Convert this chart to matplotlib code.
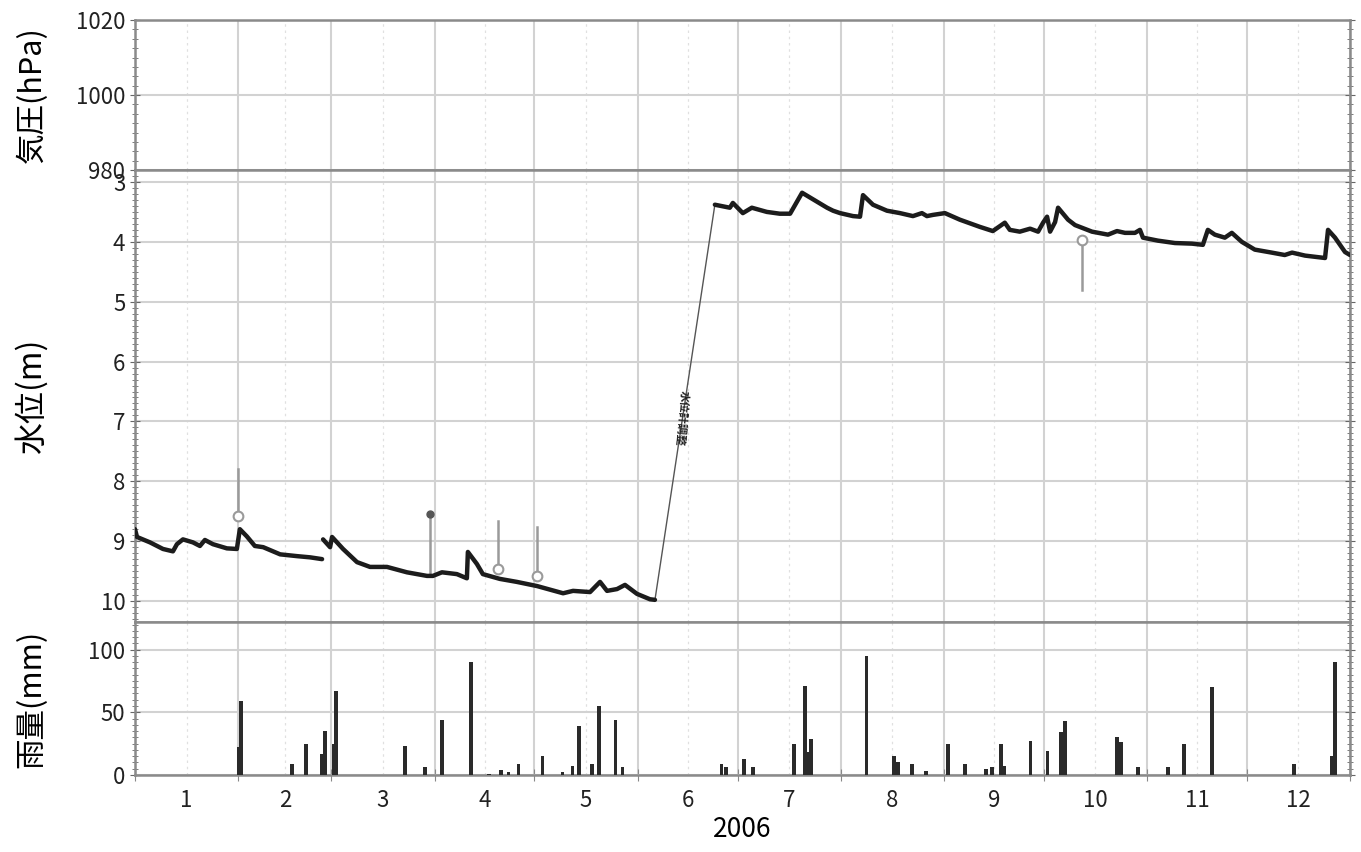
import matplotlib
matplotlib.use('Agg')
from matplotlib import pyplot as plt
from matplotlib.ticker import MultipleLocator, FixedLocator, NullFormatter
import numpy as np

plt.rcParams['font.family'] = ['Noto Sans CJK JP', 'DejaVu Sans']

# water level (m below ground), day of year 2006
day_seg1 = [0, 0.6, 4.5, 8.4, 11.4, 12.6, 14.4, 17.4, 19.5, 21.0, 23.4, 27.6, 30.6,
            31.5, 33.6, 36.0, 38.5, 43.6, 48.7, 52.6, 56.2]
lvl_seg1 = [8.80, 8.93, 9.02, 9.13, 9.17, 9.05, 8.97, 9.02, 9.08, 8.98, 9.05, 9.12, 9.13,
            8.80, 8.92, 9.08, 9.10, 9.22, 9.25, 9.27, 9.30]

day_seg2 = [56.5, 58.6, 59.2, 62.5, 66.7, 70.6, 75.7, 81.7, 87.7, 89.5, 92.2, 96.7, 99.7,
            100.0, 102.7, 104.5, 109.6, 114.7, 120.8, 128.6, 131.6, 136.7, 139.7, 141.8,
            144.8, 147.2, 150.8, 154.7, 156.2]
lvl_seg2 = [8.97, 9.10, 8.93, 9.13, 9.35, 9.43, 9.43, 9.52, 9.58, 9.58, 9.52, 9.55, 9.62,
            9.18, 9.38, 9.55, 9.63, 9.68, 9.75, 9.87, 9.83, 9.85, 9.68, 9.83,
            9.80, 9.73, 9.88, 9.97, 9.98]

day_seg3 = [174.2, 178.7, 179.6, 182.6, 185.3, 189.8, 193.7, 196.8, 200.4, 204.9, 207.9,
            209.7, 211.8, 215.7, 217.8, 218.7, 221.7, 225.9, 229.8, 233.7, 236.4, 237.9,
            239.7, 243.3, 247.8, 253.8, 257.7, 261.3, 262.8, 265.8, 268.9, 271.3, 272.8,
            274.0, 274.9, 276.4, 277.3, 280.3, 282.4, 287.5, 292.3, 295.0, 297.4, 300.4,
            301.9, 302.8, 307.3, 312.4, 317.5, 320.8, 322.3, 324.4, 327.4, 329.5, 332.5,
            336.4, 341.5, 345.4, 347.6, 351.5, 357.5, 358.4, 360.5, 363.5, 365.0]
lvl_seg3 = [3.38, 3.43, 3.35, 3.52, 3.43, 3.50, 3.53, 3.53, 3.18, 3.33, 3.43,
            3.48, 3.52, 3.57, 3.58, 3.22, 3.38, 3.48, 3.52, 3.57, 3.52, 3.57,
            3.55, 3.52, 3.63, 3.75, 3.82, 3.68, 3.80, 3.83, 3.78, 3.83, 3.68,
            3.58, 3.83, 3.67, 3.43, 3.63, 3.72, 3.83, 3.88, 3.82, 3.85, 3.85,
            3.80, 3.93, 3.98, 4.02, 4.03, 4.05, 3.80, 3.88, 3.93, 3.85, 4.00,
            4.13, 4.18, 4.22, 4.18, 4.23, 4.27, 3.80, 3.93, 4.17, 4.22]

# manual check marks: day, top, bottom
check_day = [31.0, 88.6, 109.0, 120.8, 284.5]
check_top = [7.80, 8.55, 8.67, 8.77, 3.97]
check_bot = [8.58, 9.58, 9.47, 9.58, 4.80]

# daily rainfall (mm)
rain_day = [31.3, 31.8, 47.1, 51.3, 56.1, 57.0, 59.7, 60.3, 81.2, 87.2, 92.3, 101.0,
            106.3, 109.9, 112.2, 115.2, 122.4, 128.4, 131.4, 133.4, 137.3, 139.4, 144.3,
            146.5, 176.2, 177.6, 183.0, 185.7, 198.0, 201.2, 201.8, 203.0, 219.8, 228.1,
            229.3, 233.5, 237.7, 244.3, 249.3, 255.6, 257.4, 260.1, 261.0, 269.0, 274.1,
            278.1, 279.3, 295.0, 296.2, 301.4, 310.3, 315.1, 323.5, 348.2, 359.5, 360.4]
rain_mm = [22, 59, 9, 25, 17, 35, 25, 67, 23, 6, 44, 90,
           1, 4, 2, 9, 15, 2, 7, 39, 9, 55, 44,
           6, 9, 6, 13, 6, 25, 71, 18, 29, 95, 15,
           10, 9, 3, 25, 9, 5, 6, 25, 7, 27, 19,
           34, 43, 30, 26, 6, 6, 25, 70, 9, 15, 90]

month_start = [0, 31, 59, 90, 120, 151, 181, 212, 243, 273, 304, 334, 365]
month_names = ['1', '2', '3', '4', '5', '6', '7', '8', '9', '10', '11', '12']

fig = plt.figure(figsize=(13.61, 8.52), dpi=100)
L, W = 135 / 1361, 1215 / 1361
ax_p = fig.add_axes([L, 1 - 170 / 852, W, 150 / 852])
ax_w = fig.add_axes([L, 1 - 622 / 852, W, 452 / 852])
ax_r = fig.add_axes([L, 1 - 775 / 852, W, 153 / 852])

mid = [(month_start[i] + month_start[i + 1]) / 2 for i in range(12)]

for ax in (ax_p, ax_w, ax_r):
    ax.set_xlim(0, 365)
    ax.xaxis.set_major_locator(FixedLocator(month_start))
    ax.xaxis.set_minor_locator(FixedLocator(mid))
    ax.grid(True, which='major', axis='both', color='#d2d2d2', lw=1.5)
    ax.grid(True, which='minor', axis='x', color='#e0e0e0', lw=0.9, ls=(0, (2, 3)))
    for s in ax.spines.values():
        s.set_color('#8a8a8a')
        s.set_linewidth(1.8)
    ax.tick_params(axis='y', which='both', direction='inout', right=True, colors='#666',
                   labelcolor='#222', labelsize=16)
    ax.tick_params(axis='y', which='major', length=7)
    ax.tick_params(axis='y', which='minor', length=4)
    ax.tick_params(axis='x', which='both', length=0, labelbottom=False)
    ax.set_axisbelow(True)

# pressure panel (empty)
ax_p.set_ylim(980, 1020)
ax_p.set_yticks([980, 1000, 1020])
ax_p.yaxis.set_minor_locator(MultipleLocator(2.5))
ax_p.set_ylabel('気圧(hPa)', fontsize=22)

# water level panel
ax_w.set_ylim(10.35, 2.8)
ax_w.set_yticks(range(3, 11))
ax_w.yaxis.set_minor_locator(MultipleLocator(0.1))
ax_w.set_ylabel('水位(m)', fontsize=23)

for i in range(len(check_day)):
    ax_w.plot([check_day[i], check_day[i]], [check_top[i], check_bot[i]], color='#9a9a9a', lw=1.8, zorder=2)
ax_w.plot(check_day[1], check_top[1], 'o', color='#555', ms=5, zorder=3)
ax_w.plot([check_day[0], check_day[2], check_day[3]], [check_bot[0], check_bot[2], check_bot[3]],
          'o', mfc='white', mec='#9a9a9a', ms=7, mew=1.5, zorder=3)
ax_w.plot(check_day[4], check_top[4], 'o', mfc='white', mec='#9a9a9a', ms=7, mew=1.5, zorder=3)

ax_w.plot([day_seg2[-1], day_seg3[0]], [lvl_seg2[-1], lvl_seg3[0]], color='#555', lw=1.0, zorder=3)
for d, l in ((day_seg1, lvl_seg1), (day_seg2, lvl_seg2), (day_seg3, lvl_seg3)):
    ax_w.plot(d, l, color='#1c1c1c', lw=3.2, solid_joinstyle='round', solid_capstyle='round', zorder=4)
ax_w.text(164.4, 6.95, '水位計調整', rotation=-95, fontsize=8, ha='center', va='center',
          color='#222', fontweight='bold', zorder=5)

# rainfall panel
ax_r.bar(rain_day, rain_mm, width=1.1, color='#2a2a2a', zorder=3)
ax_r.set_ylim(0, 122)
ax_r.set_yticks([0, 50, 100])
ax_r.yaxis.set_minor_locator(MultipleLocator(5))
ax_r.set_ylabel('雨量(mm)', fontsize=22)
ax_r.tick_params(axis='x', which='major', length=8, direction='inout', colors='#888')
ax_r.tick_params(axis='x', which='minor', labelbottom=True, labelsize=16, labelcolor='#222', pad=10)
ax_r.xaxis.set_major_formatter(NullFormatter())
ax_r.set_xticklabels(month_names, minor=True)
ax_r.set_xlabel('2006', fontsize=19, labelpad=3)

for ax in (ax_p, ax_w, ax_r):
    ax.yaxis.set_label_coords(-0.072, 0.5)

fig.savefig('out.png', dpi=100)
